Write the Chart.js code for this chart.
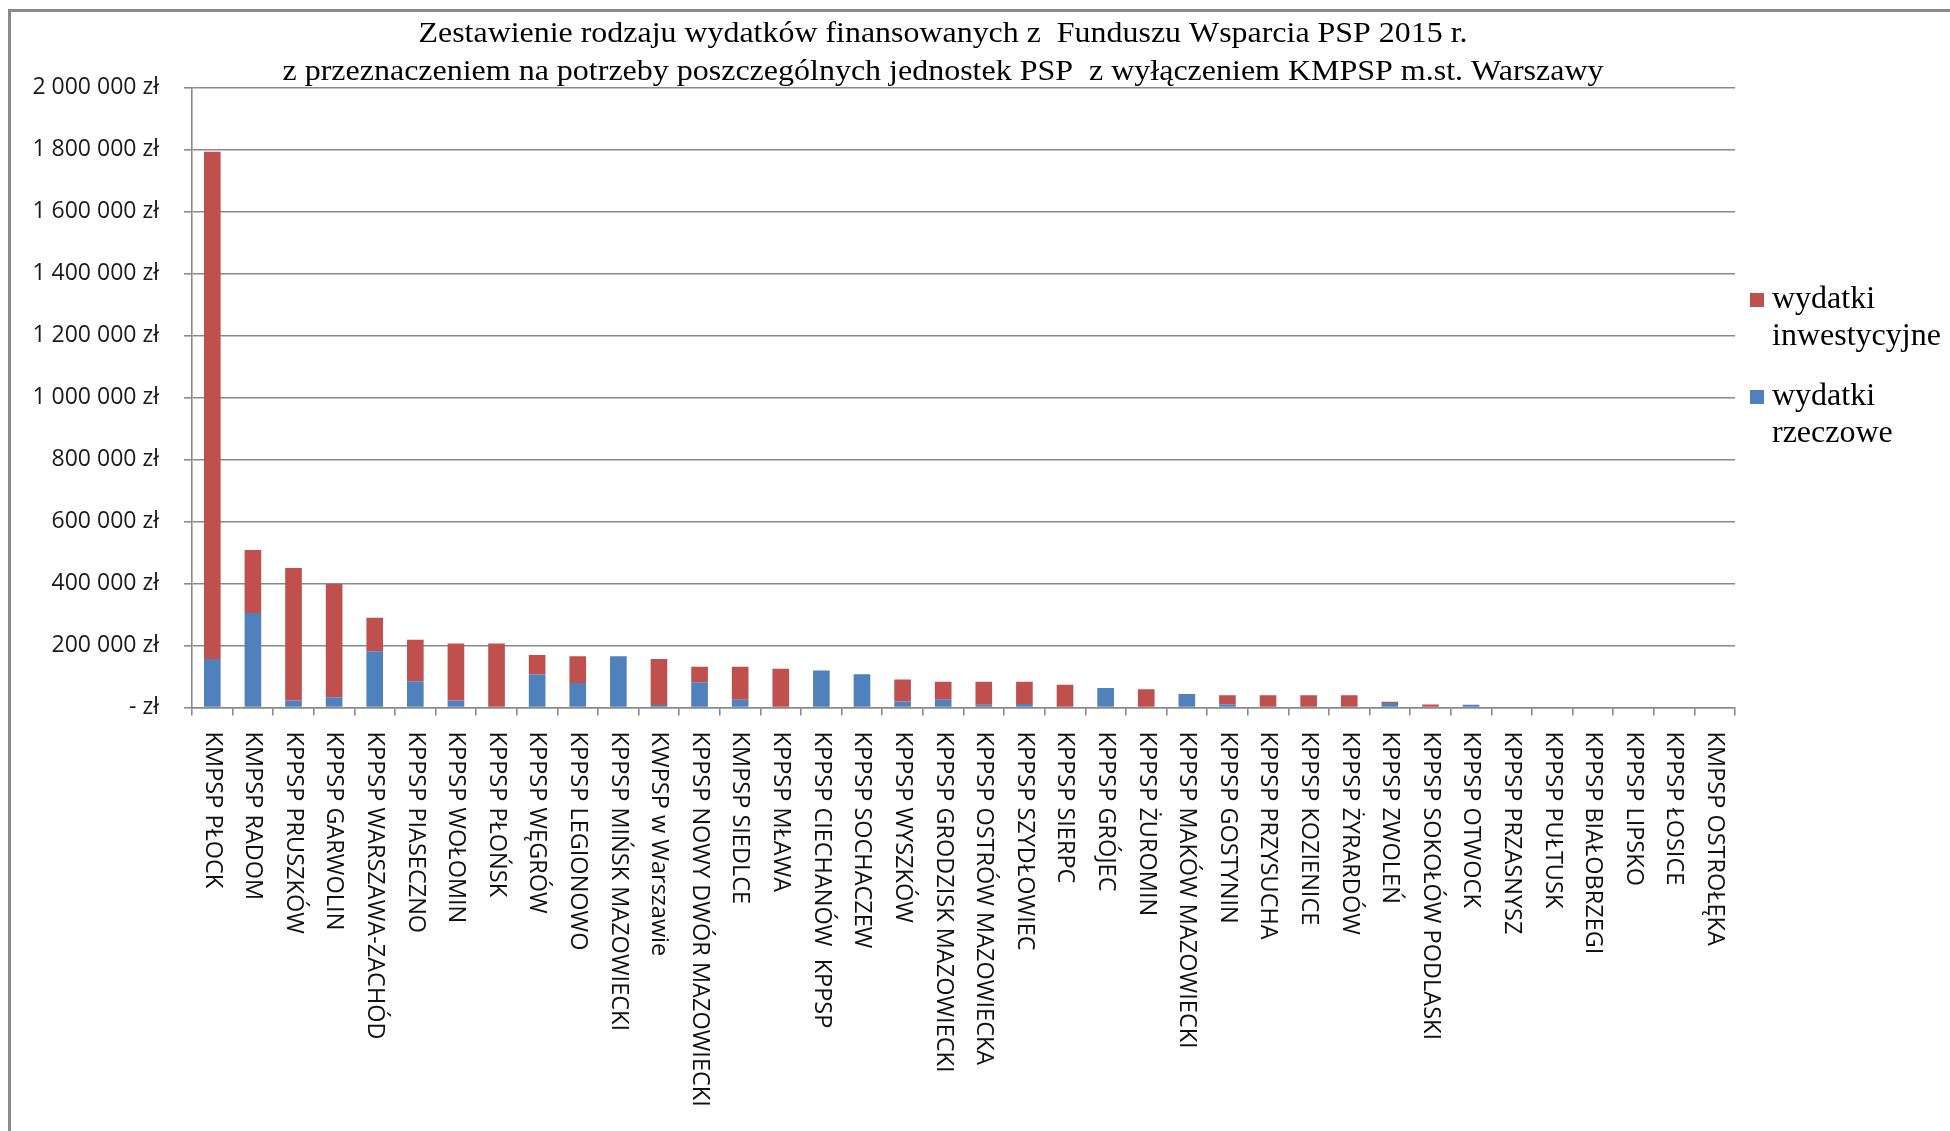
<!DOCTYPE html>
<html>
<head>
<meta charset="utf-8">
<script src="https://cdn.jsdelivr.net/npm/chart.js@4.4.1/dist/chart.umd.min.js"></script>
<style>
  html, body { margin: 0; padding: 0; background: #fff; }
  #wrap { width: 1950px; height: 1131px; position: relative; }
</style>
</head>
<body>
<div id="wrap"><canvas id="myChart"></canvas></div>
<script>
// Tytuł wykresu (dwie linie)
const tytul = [
    'Zestawienie rodzaju wydatków finansowanych z  Funduszu Wsparcia PSP 2015 r.',
    'z przeznaczeniem na potrzeby poszczególnych jednostek PSP  z wyłączeniem KMPSP m.st. Warszawy'
];

// Jednostki PSP (oś X)
const jednostki = [
    'KMPSP PŁOCK', 'KMPSP RADOM', 'KPPSP PRUSZKÓW', 'KPPSP GARWOLIN', 'KPPSP WARSZAWA-ZACHÓD',
    'KPPSP PIASECZNO', 'KPPSP WOŁOMIN', 'KPPSP PŁOŃSK', 'KPPSP WĘGRÓW', 'KPPSP LEGIONOWO',
    'KPPSP MIŃSK MAZOWIECKI', 'KWPSP w Warszawie', 'KPPSP NOWY DWÓR MAZOWIECKI', 'KMPSP SIEDLCE',
    'KPPSP MŁAWA', 'KPPSP CIECHANÓW  KPPSP', 'KPPSP SOCHACZEW', 'KPPSP WYSZKÓW',
    'KPPSP GRODZISK MAZOWIECKI', 'KPPSP OSTRÓW MAZOWIECKA', 'KPPSP SZYDŁOWIEC', 'KPPSP SIERPC',
    'KPPSP GRÓJEC', 'KPPSP ŻUROMIN', 'KPPSP MAKÓW MAZOWIECKI', 'KPPSP GOSTYNIN', 'KPPSP PRZYSUCHA',
    'KPPSP KOZIENICE', 'KPPSP ŻYRARDÓW', 'KPPSP ZWOLEŃ', 'KPPSP SOKOŁÓW PODLASKI', 'KPPSP OTWOCK',
    'KPPSP PRZASNYSZ', 'KPPSP PUŁTUSK', 'KPPSP BIAŁOBRZEGI', 'KPPSP LIPSKO', 'KPPSP ŁOSICE',
    'KMPSP OSTROŁĘKA'
];

// Wydatki rzeczowe (niebieskie, dół słupka)
const rzeczowe = [
    157000, 305000, 23000, 33000, 182000, 85000, 23000, 0, 107000, 79000,
    166000, 8000, 82000, 25000, 0, 120000, 107500, 20000, 25000, 9000,
    12000, 0, 63000, 0, 44000, 11000, 0, 0, 0, 15000,
    0, 9000, 0, 0, 0, 0, 0, 0
];

// Wydatki inwestycyjne (czerwone, góra słupka)
const inwestycyjne = [
    1636000, 203000, 427000, 366000, 108000, 134000, 184000, 207000, 63000, 87000,
    0, 149000, 50000, 107000, 125000, 0, 0, 71000, 58000, 74000,
    71000, 74000, 0, 59000, 0, 29000, 40000, 40000, 40000, 4000,
    10000, 0, 0, 0, 0, 0, 0, 0
];

// Wartości podziałki osi Y
const podzialkaY = [0, 200000, 400000, 600000, 800000, 1000000, 1200000, 1400000, 1600000, 1800000, 2000000];

const SZARY = '#8a8a8a';

function formatZl(v) {
    if (v === 0) return '- zł';
    return String(v).replace(/\B(?=(\d{3})+(?!\d))/g, ' ') + ' zł';
}

// Ramka, tytuł, legenda i opisy osi X rysowane ręcznie
const dodatki = {
    id: 'dodatki',
    afterDraw(chart) {
        const ctx = chart.ctx;
        const x = chart.scales.x;

        // ramka wykresu
        ctx.save();
        ctx.strokeStyle = SZARY;
        ctx.lineWidth = 3;
        ctx.beginPath();
        ctx.moveTo(9.5, chart.height);
        ctx.lineTo(9.5, 10.5);
        ctx.lineTo(chart.width, 10.5);
        ctx.stroke();
        ctx.restore();

        // tytuł
        ctx.save();
        ctx.font = '29px "Liberation Serif"';
        ctx.fillStyle = '#000';
        ctx.textAlign = 'center';
        ctx.textBaseline = 'middle';
        const szer = [1049, 1321];
        const ys = [34, 72];
        tytul.forEach((t, i) => {
            const w = ctx.measureText(t).width;
            ctx.save();
            ctx.translate(943, ys[i]);
            ctx.scale(szer[i] / w, 1);
            ctx.fillText(t, 0, 0);
            ctx.restore();
        });
        ctx.restore();

        // opisy osi X (obrócone)
        ctx.save();
        ctx.font = '23.5px "Open Sans"';
        ctx.fillStyle = '#111';
        ctx.textAlign = 'left';
        ctx.textBaseline = 'middle';
        jednostki.forEach((l, i) => {
            const px = x.getPixelForValue(i);
            ctx.save();
            ctx.translate(px, x.top + 24);
            ctx.rotate(Math.PI / 2);
            ctx.fillText(l, 0, 0);
            ctx.restore();
        });
        ctx.restore();

        // legenda
        ctx.save();
        ctx.font = '32px "Liberation Serif"';
        ctx.fillStyle = '#000';
        ctx.textAlign = 'left';
        ctx.textBaseline = 'middle';
        const kolejnosc = [1, 0];
        const ly = [300, 397];
        kolejnosc.forEach((di, k) => {
            const ds = chart.data.datasets[di];
            ctx.fillStyle = ds.backgroundColor;
            ctx.fillRect(1750, ly[k] - 7, 14, 14);
            ctx.fillStyle = '#000';
            ds.label.split(' ').forEach((w, j) => {
                ctx.fillText(w, 1772, ly[k] + j * 37);
            });
        });
        ctx.restore();
    }
};

const ctx = document.getElementById('myChart').getContext('2d');
new Chart(ctx, {
    type: 'bar',
    data: {
        labels: jednostki,
        datasets: [
            {
                label: 'wydatki rzeczowe',
                data: rzeczowe,
                backgroundColor: '#4F81BD',
                barPercentage: 0.41,
                categoryPercentage: 1.0
            },
            {
                label: 'wydatki inwestycyjne',
                data: inwestycyjne,
                backgroundColor: '#C0504D',
                barPercentage: 0.41,
                categoryPercentage: 1.0
            }
        ]
    },
    options: {
        responsive: true,
        maintainAspectRatio: false,
        animation: false,
        layout: { padding: { top: 87.6, left: 0, right: 215, bottom: 0 } },
        plugins: {
            legend: { display: false },
            title: { display: false },
            tooltip: { enabled: false }
        },
        scales: {
            x: {
                stacked: true,
                afterFit: s => { s.height = 423.4; },
                ticks: { display: false },
                grid: {
                    display: true,
                    drawOnChartArea: false,
                    drawTicks: true,
                    tickLength: 8,
                    color: SZARY,
                    lineWidth: 1.6
                },
                border: { display: true, color: SZARY, width: 1.6 }
            },
            y: {
                stacked: true,
                min: 0,
                max: 2000000,
                afterFit: s => { s.width = 192; },
                afterBuildTicks: s => { s.ticks = podzialkaY.map(v => ({ value: v })); },
                ticks: {
                    callback: v => formatZl(v),
                    font: { family: '"Open Sans"', size: 23 },
                    color: '#1a1a1a',
                    padding: 25
                },
                grid: {
                    color: SZARY,
                    lineWidth: 1.6,
                    drawTicks: true,
                    tickLength: 8
                },
                border: { display: true, color: SZARY, width: 1.6 }
            }
        }
    },
    plugins: [dodatki]
});
</script>
</body>
</html>
